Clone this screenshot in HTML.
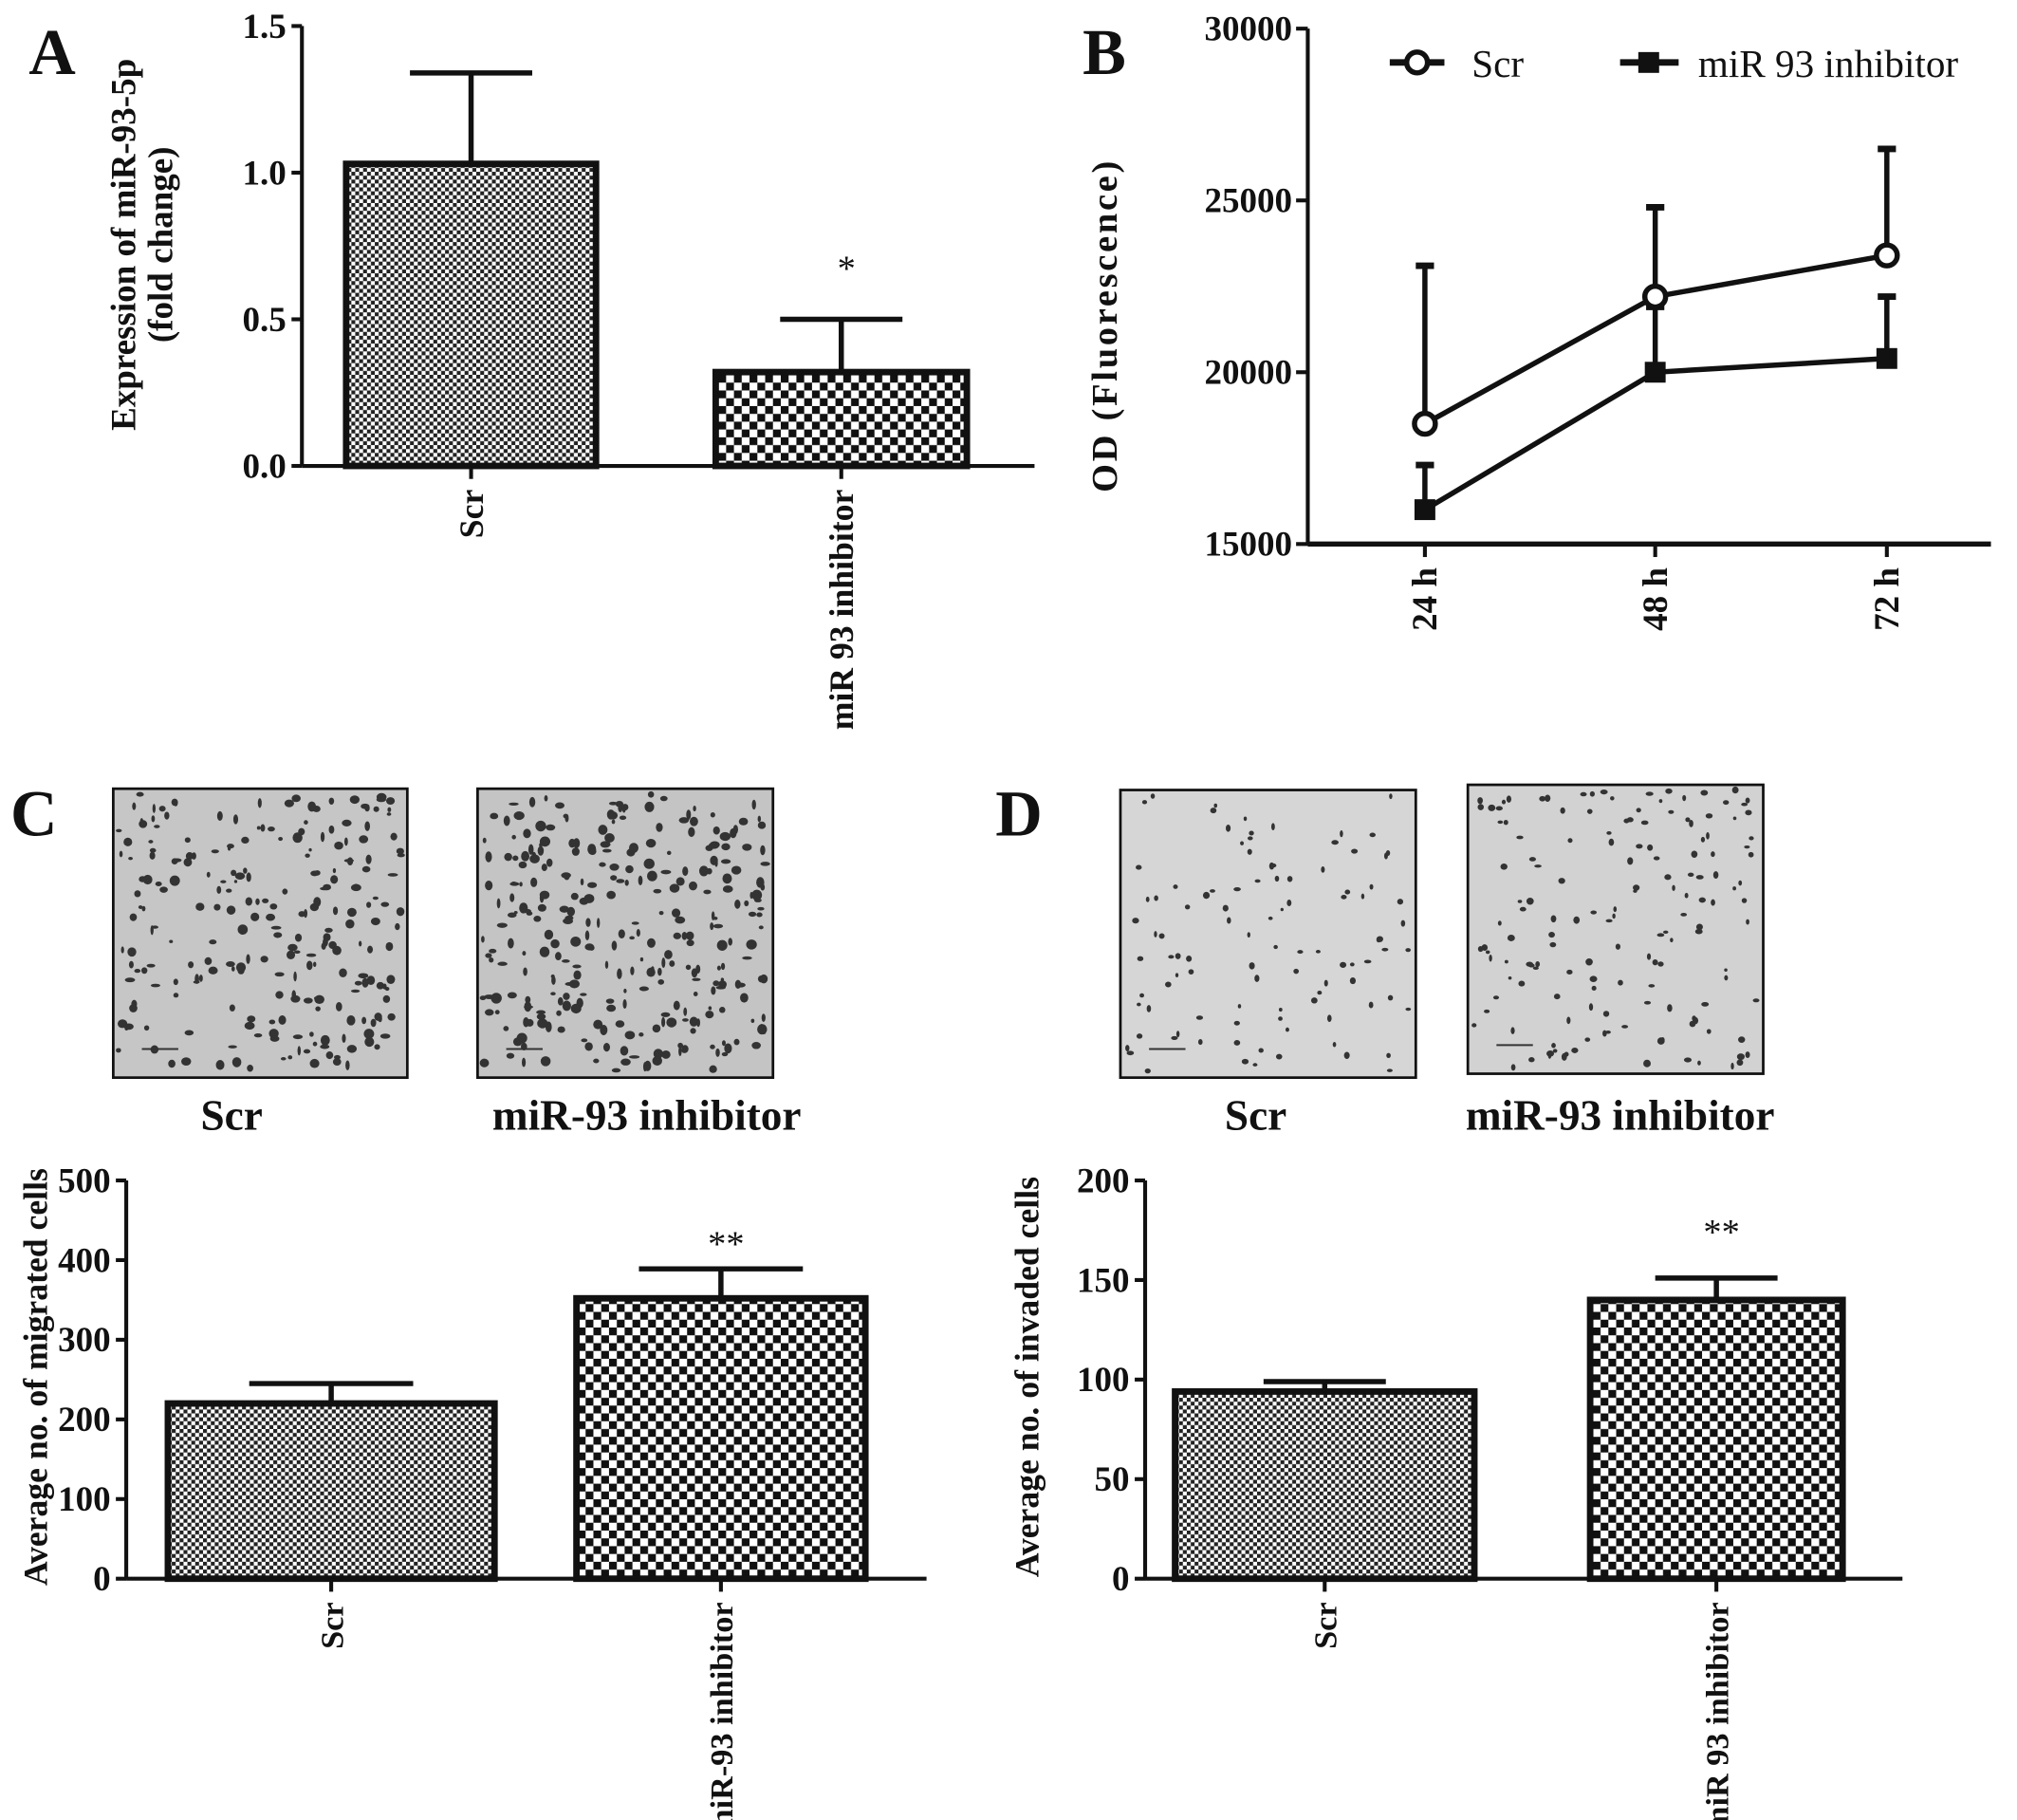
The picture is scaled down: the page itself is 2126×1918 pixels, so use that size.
<!DOCTYPE html>
<html><head><meta charset="utf-8"><style>
html,body{margin:0;padding:0;background:#fff;}
svg{display:block;}
text{font-family:"Liberation Serif",serif;fill:#111;}
</style></head><body>
<svg id="fig" xmlns="http://www.w3.org/2000/svg" width="2126" height="1918" viewBox="0 0 1550 1398.4">
<defs>
<pattern id="fine" width="6" height="6" patternUnits="userSpaceOnUse"><rect width="6" height="6" fill="#fff"/><rect width="3" height="3" fill="#222"/><rect x="3" y="3" width="3" height="3" fill="#222"/></pattern>
<pattern id="coarse" width="12" height="12" patternUnits="userSpaceOnUse"><rect width="12" height="12" fill="#fff"/><rect width="6" height="6" fill="#111"/><rect x="6" y="6" width="6" height="6" fill="#111"/></pattern>
</defs>
<g id="root"></g>
</svg>
<script>
// Panel A data
const aCats = ["Scr", "miR 93 inhibitor"];
const aVals = [1.03, 0.32];
const aErr = [1.34, 0.50];
const aTicks = [0.0, 0.5, 1.0, 1.5];
const aTickLabels = ["0.0", "0.5", "1.0", "1.5"];
// Panel B data
const bCats = ["24 h", "48 h", "72 h"];
const bScr = [18500, 22200, 23400];
const bScrErr = [23100, 24800, 26500];
const bInh = [16000, 20000, 20400];
const bInhErr = [17300, 21900, 22200];
const bTicks = [15000, 20000, 25000, 30000];
// Panel C data
const cCats = ["Scr", "miR-93 inhibitor"];
const cVals = [220, 352];
const cErr = [245, 389];
const cTicks = [0, 100, 200, 300, 400, 500];
// Panel D data
const dCats = ["Scr", "miR 93 inhibitor"];
const dVals = [94, 140];
const dErr = [99, 151];
const dTicks = [0, 50, 100, 150, 200];

const NS = "http://www.w3.org/2000/svg";
const root = document.getElementById("root");
function el(tag, attrs, parent, txt) {
  const e = document.createElementNS(NS, tag);
  for (const k in attrs) e.setAttribute(k, attrs[k]);
  if (txt !== undefined) e.textContent = txt;
  (parent || root).appendChild(e);
  return e;
}
function grp(name) {
  const g = el("g", {});
  
  
  return g;
}

function barChart(o) {
  const g = grp(o.name);
  const y = v => o.y0 - (v - o.min) / (o.max - o.min) * (o.y0 - o.y1);
  const ya = el("line", {x1:o.ax, y1:o.y1, x2:o.ax, y2:o.y0, stroke:"#111","stroke-width":3}, g);
  
  
  const xa = el("line", {x1:o.ax, y1:o.y0, x2:o.axEnd, y2:o.y0, stroke:"#111","stroke-width":3}, g);
  
  
  o.ticks.forEach((t, i) => {
    el("line", {x1:o.ax-8, y1:y(t), x2:o.ax, y2:y(t), stroke:"#111","stroke-width":3}, g);
    const tl = el("text", {x:o.ax-12, y:y(t)+9, "text-anchor":"end","font-size":o.tfs,"font-weight":"bold"}, g, o.tlabels ? o.tlabels[i] : String(t));
    
    
  });
  o.cats.forEach((c, i) => {
    const [bx0, bx1] = o.bars[i];
    const cx = (bx0 + bx1) / 2;
    const eb = el("line", {x1:cx, y1:y(o.vals[i]), x2:cx, y2:y(o.err[i]), stroke:"#111","stroke-width":4}, g);
    
    
    el("line", {x1:cx-o.cap, y1:y(o.err[i]), x2:cx+o.cap, y2:y(o.err[i]), stroke:"#111","stroke-width":4}, g);
    const b = el("rect", {x:bx0, y:y(o.vals[i]), width:bx1-bx0, height:o.y0-y(o.vals[i]), fill:i===0?"url(#fine)":"url(#coarse)", stroke:"#111","stroke-width":5}, g);
    
    
    el("line", {x1:cx, y1:o.y0, x2:cx, y2:o.y0+10, stroke:"#111","stroke-width":3}, g);
    const lt = el("text", {x:0, y:0, "text-anchor":"end","font-size":o.cfs,"font-weight":"bold", transform:`translate(${cx+9},${o.y0+18}) rotate(-90)`}, g, c);
    
    
  });
  if (o.star) {
    const st = el("text", {x:(o.bars[1][0]+o.bars[1][1])/2+4, y:y(o.err[1])-o.starGap, "text-anchor":"middle","font-size":28}, g, o.star);
    
    
  }
  const yt = el("text", {x:0, y:0, "text-anchor":"middle","font-size":o.yfs,"font-weight":o.ybold?"bold":"normal", transform:`translate(${o.ytx},${o.yty}) rotate(-90)`}, g);
  
  
  o.ytitle.forEach((l, k) => el("tspan", {x:0, dy:k===0?0:o.yfs*1.05}, yt, l));
  return g;
}

function letter(t, x, y) {
  const e = el("text", {x:x, y:y, "font-size":50, "font-weight":"bold"}, root, t);
  
  
}

letter("A", 22, 57); letter("B", 832, 57); letter("C", 8, 642); letter("D", 765, 642);

barChart({name:"panel-a-chart", ax:232, axEnd:795, y0:358, y1:20, min:0, max:1.5, ticks:aTicks, tlabels:aTickLabels, tfs:27,
  cats:aCats, vals:aVals, err:aErr, bars:[[266,458],[550,743]], cap:47, cfs:26, star:"*", starGap:30,
  ytitle:["Expression of miR-93-5p","(fold change)"], yfs:27, ybold:true, ytx:104, yty:188});

barChart({name:"panel-c-chart", ax:97, axEnd:712, y0:1213, y1:907, min:0, max:500, ticks:cTicks, tfs:27,
  cats:cCats, vals:cVals, err:cErr, bars:[[129,380],[443,665]], cap:63, cfs:25, star:"**", starGap:10,
  ytitle:["Average no. of migrated cells"], yfs:26, ybold:true, ytx:36, yty:1058});

barChart({name:"panel-d-chart", ax:880, axEnd:1462, y0:1213, y1:907, min:0, max:200, ticks:dTicks, tfs:27,
  cats:dCats, vals:dVals, err:dErr, bars:[[903,1133],[1222,1416]], cap:47, cfs:25, star:"**", starGap:26,
  ytitle:["Average no. of invaded cells"], yfs:26, ybold:true, ytx:798, yty:1058});

// Panel B line chart
(function(){
  const g = grp("panel-b-chart");
  const ax = 1005, axEnd = 1530, y0 = 418, y1 = 22, min = 15000, max = 30000;
  const xs = [1095, 1272, 1450];
  const y = v => y0 - (v - min) / (max - min) * (y0 - y1);
  const ya = el("line", {x1:ax, y1:y1, x2:ax, y2:y0, stroke:"#111","stroke-width":3}, g);
  
  
  const xa = el("line", {x1:ax, y1:y0, x2:axEnd, y2:y0, stroke:"#111","stroke-width":4}, g);
  
  
  bTicks.forEach(t => {
    el("line", {x1:ax-9, y1:y(t), x2:ax, y2:y(t), stroke:"#111","stroke-width":3}, g);
    const tl = el("text", {x:ax-12, y:y(t)+9, "text-anchor":"end","font-size":27,"font-weight":"bold"}, g, String(t));
    
    
  });
  bCats.forEach((c, i) => {
    el("line", {x1:xs[i], y1:y0, x2:xs[i], y2:y0+10, stroke:"#111","stroke-width":3}, g);
    const lt = el("text", {x:0, y:0, "text-anchor":"end","font-size":27,"font-weight":"bold", transform:`translate(${xs[i]+9},${y0+18}) rotate(-90)`}, g, c);
    
    
  });
  function series(vals, errs, name, marker) {
    const sg = el("g", {}, g);
    
    
    vals.forEach((v, i) => {
      el("line", {x1:xs[i], y1:y(v), x2:xs[i], y2:y(errs[i]), stroke:"#111","stroke-width":4}, sg);
      el("line", {x1:xs[i]-7, y1:y(errs[i]), x2:xs[i]+7, y2:y(errs[i]), stroke:"#111","stroke-width":5}, sg);
    });
    const ln = el("polyline", {points:vals.map((v,i)=>xs[i]+","+y(v)).join(" "), fill:"none", stroke:"#111","stroke-width":4}, sg);
    
    
    vals.forEach((v, i) => {
      let m;
      if (marker === "circle") m = el("circle", {cx:xs[i], cy:y(v), r:8, fill:"#fff", stroke:"#111","stroke-width":4}, sg);
      else m = el("rect", {x:xs[i]-8, y:y(v)-8, width:16, height:16, fill:"#111"}, sg);
      
      
    });
  }
  series(bInh, bInhErr, "series-inhibitor", "square");
  series(bScr, bScrErr, "series-scr", "circle");
  const lg = el("g", {}, g);
  
  
  el("line", {x1:1068, y1:48, x2:1110, y2:48, stroke:"#111","stroke-width":5}, lg);
  el("circle", {cx:1089, cy:48, r:8, fill:"#fff", stroke:"#111","stroke-width":4}, lg);
  el("text", {x:1131, y:59, "font-size":30}, lg, "Scr");
  el("line", {x1:1245, y1:48, x2:1290, y2:48, stroke:"#111","stroke-width":5}, lg);
  el("rect", {x:1259, y:40, width:16, height:16, fill:"#111"}, lg);
  el("text", {x:1305, y:59, "font-size":30}, lg, "miR 93 inhibitor");
  const yt = el("text", {x:0, y:0, "text-anchor":"middle","font-size":28,"font-weight":"bold","letter-spacing":"2", transform:"translate(858,250) rotate(-90)"}, g, "OD  (Fluorescence)");
  
  
})();

// Micrographs (decorative images)
let seed = 7;
function rnd(){ seed = (seed * 16807) % 2147483647; return seed / 2147483647; }
function micro(name, x, y, w, h, n, bg, rmax) {
  const g = grp(name);
  el("rect", {x:x, y:y, width:w, height:h, fill:bg, stroke:"#111","stroke-width":2}, g);
  for (let i = 0; i < n; i++) {
    el("ellipse", {cx:x+4+rnd()*(w-8), cy:y+4+rnd()*(h-8), rx:1.2+rnd()*rmax, ry:1.2+rnd()*rmax, fill:"#333"}, g);
  }
  el("line", {x1:x+22, y1:y+h-22, x2:x+50, y2:y+h-22, stroke:"#333","stroke-width":1.5}, g);
}
micro("scr-migration-image", 87, 606, 226, 222, 240, "#c6c6c6", 2.8);
micro("inhibitor-migration-image", 367, 606, 227, 222, 300, "#c4c4c4", 3.0);
micro("scr-invasion-image", 861, 607, 227, 221, 100, "#d6d6d6", 1.6);
micro("inhibitor-invasion-image", 1128, 603, 227, 222, 150, "#d2d2d2", 1.8);

[["Scr",178],["miR-93 inhibitor",497],["Scr",965],["miR-93 inhibitor",1245]].forEach(([t,x]) => {
  const e = el("text", {x:x, y:868, "text-anchor":"middle","font-size":33,"font-weight":"bold"}, root, t);
  
  
});
</script>
</body></html>
